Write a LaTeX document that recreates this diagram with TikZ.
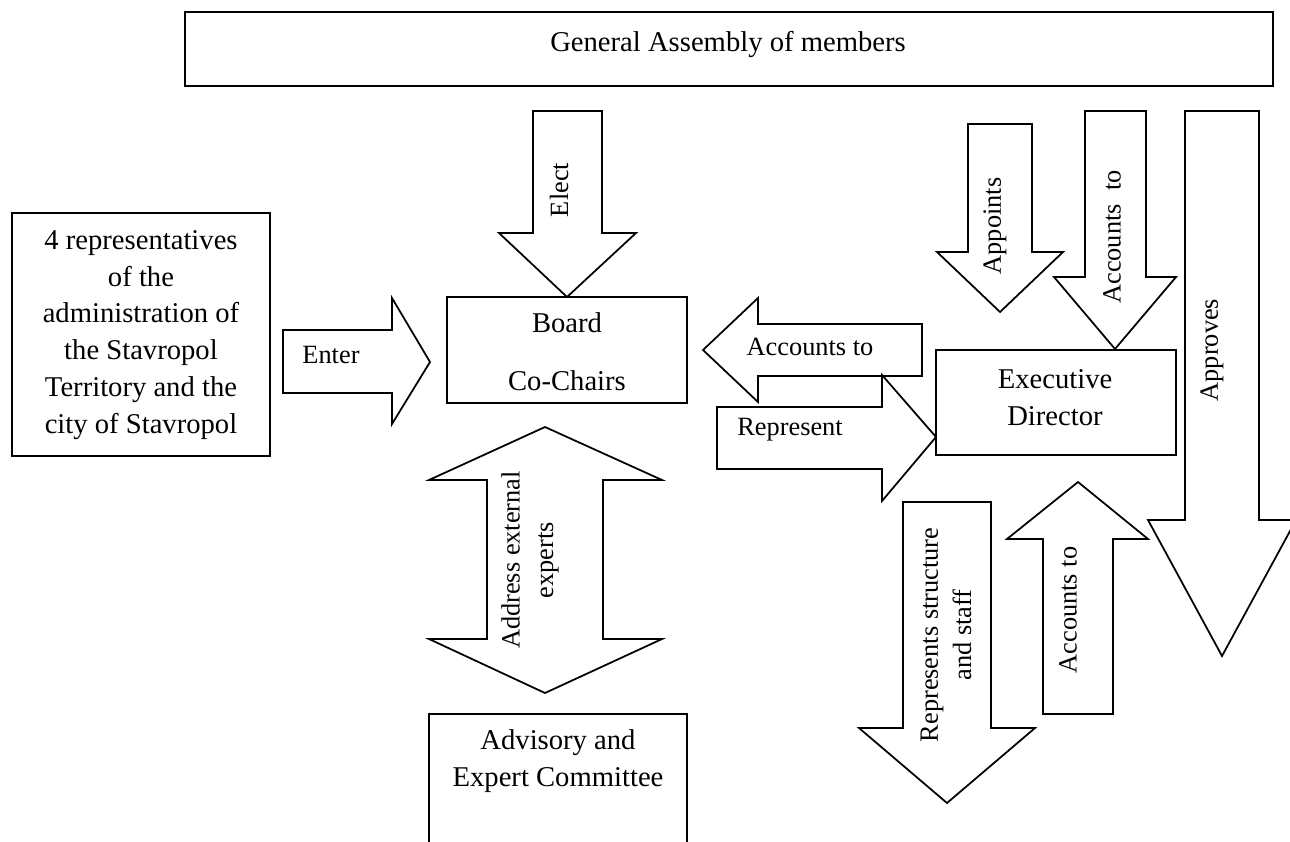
\documentclass[tikz,border=0pt]{standalone}
\usepackage{fontspec}
\setmainfont{Liberation Serif}
\usetikzlibrary{positioning}
\tikzset{
  orgbox/.style={draw, line width=1pt},
  blockarrow/.style={draw, line width=1pt, line join=miter},
  boxtext/.style={font=\fontsize{16.3}{21}\selectfont, align=center, inner sep=0pt},
  arrowtext/.style={font=\fontsize{15}{19}\selectfont, align=center, inner sep=0pt}
}

\begin{document}
\begin{tikzpicture}[x=0.02cm, y=-0.02cm]
  \useasboundingbox (0,0) rectangle (1290,841);
  \clip (0,0) rectangle (1290,841);
  % boxes
  \draw[orgbox] (185,12) rectangle (1273,86);
  \node[boxtext] (assembly) at (728,45) {General Assembly of members};
  \draw[orgbox] (12,213) rectangle (270,456);
  \node[boxtext] (admin) at (141,335) {4 representatives\\of the\\administration of\\the Stavropol\\Territory and the\\city of Stavropol};
  \draw[orgbox] (447,297) rectangle (687,403);
  \node[boxtext] (board) at (567,352) {Board\\[12pt]Co-Chairs};
  \draw[orgbox] (936,350) rectangle (1176,455);
  \node[boxtext] (director) at (1055,398) {Executive\\Director};
  \draw[orgbox] (429,714) rectangle (687,860);
  \node[boxtext] (committee) at (558,761) {Advisory and\\Expert Committee};
  % arrows
  \draw[blockarrow] (533,111) -- (602,111) -- (602,233) -- (636,233) -- (567,297)
    -- (499,233) -- (533,233) -- cycle;
  \node[arrowtext, rotate=90] (elect) at (559,190) {Elect};
  \draw[blockarrow] (283,330) -- (392,330) -- (392,298) -- (430,362) -- (392,424)
    -- (392,393) -- (283,393) -- cycle;
  \node[arrowtext] (enter) at (331,355) {Enter};
  \draw[blockarrow] (545,427) -- (662,480) -- (603,480) -- (603,639) -- (662,639)
    -- (545,693) -- (429,639) -- (487,639) -- (487,480) -- (429,480) -- cycle;
  \node[arrowtext, rotate=90] (experts) at (530,560) {Address external\\experts};
  \draw[blockarrow] (703,350) -- (758,298) -- (758,324) -- (922,324) -- (922,376)
    -- (758,376) -- (758,402) -- cycle;
  \node[arrowtext] (accleft) at (810,347) {Accounts to};
  \draw[blockarrow] (717,407) -- (882,407) -- (882,375) -- (936,437) -- (882,501)
    -- (882,469) -- (717,469) -- cycle;
  \node[arrowtext] (represent) at (790,430) {Represent};
  \draw[blockarrow] (968,124) -- (1032,124) -- (1032,252) -- (1063,252) -- (1000,312)
    -- (937,252) -- (968,252) -- cycle;
  \node[arrowtext, rotate=90] (appoints) at (995,226) {Appoints};
  \draw[blockarrow] (1085,111) -- (1146,111) -- (1146,277) -- (1176,277) -- (1115,349)
    -- (1054,277) -- (1085,277) -- cycle;
  \node[arrowtext, rotate=90] (accdown) at (1112,237) {Accounts~ to};
  \draw[blockarrow] (1185,111) -- (1259,111) -- (1259,520) -- (1296,520) -- (1222,656)
    -- (1148,520) -- (1185,520) -- cycle;
  \node[arrowtext, rotate=90] (approves) at (1212,350) {Approves};
  \draw[blockarrow] (1078,482) -- (1148,539) -- (1113,539) -- (1113,714) -- (1043,714)
    -- (1043,539) -- (1007,539) -- cycle;
  \node[arrowtext, rotate=90] (accup) at (1068,610) {Accounts to};
  \draw[blockarrow] (903,502) -- (991,502) -- (991,728) -- (1035,728) -- (947,803)
    -- (859,728) -- (903,728) -- cycle;
  \node[arrowtext, rotate=90] (staff) at (946,635) {Represents structure\\and staff};
\end{tikzpicture}
\end{document}
